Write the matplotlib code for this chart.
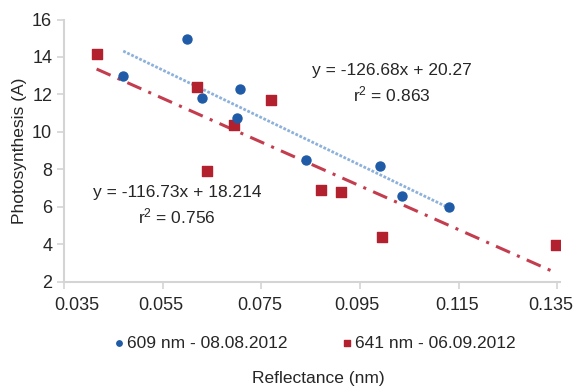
import matplotlib
matplotlib.use("Agg")
import matplotlib.pyplot as plt
import matplotlib.transforms as mtransforms
import numpy as np

plt.rcParams["font.family"] = ["Liberation Sans", "DejaVu Sans"]

# ── DATA ────────────────────────────────────────────────────────────────────
x_609 = [0.047, 0.060, 0.063, 0.0706, 0.070, 0.084, 0.099, 0.1035, 0.113]
y_609 = [13.0, 14.95, 11.8, 12.3, 10.75, 8.5, 8.2, 6.6, 6.0]

x_641 = [0.0416, 0.0619, 0.0639, 0.0695, 0.077, 0.0871, 0.0911, 0.0994, 0.1347]
y_641 = [14.15, 12.4, 7.9, 10.35, 11.7, 6.9, 6.8, 4.4, 3.95]

fit_609 = (-126.68, 20.27)
fit_641 = (-116.73, 18.214)

x_ticks = [0.035, 0.055, 0.075, 0.095, 0.115, 0.135]
y_ticks = [2, 4, 6, 8, 10, 12, 14, 16]

label_609 = "609 nm - 08.08.2012"
label_641 = "641 nm - 06.09.2012"

# ── FIGURE ──────────────────────────────────────────────────────────────────
fig = plt.figure(figsize=(5.77, 3.90), dpi=100, facecolor="white")
ax = fig.add_axes([0.111, 0.277, 0.860, 0.673])

blue = "#1f5ba6"
red = "#b3202e"
txt = "#262626"

# trend lines
xs = np.array([min(x_609), max(x_609)])
ax.plot(xs, fit_609[0] * xs + fit_609[1], color="#8db1da", lw=2,
        ls=(0, (1, 0.6)), zorder=2)
xr = np.array([min(x_641), max(x_641)])
ax.plot(xr, fit_641[0] * xr + fit_641[1], color="#c43d4f", lw=2.2,
        ls=(0, (5, 2.5, 1, 2.5)), zorder=2)

ax.scatter(x_609, y_609, s=42, color=blue, marker="o", zorder=4, label=label_609)
ax.scatter(x_641, y_641, s=52, color=red, marker="s", zorder=3, label=label_641)

ax.set_xlim(0.035, 0.1356)
ax.set_ylim(2, 16)
ax.set_xticks(x_ticks)
ax.set_xticklabels([f"{v:.3f}" for v in x_ticks])
ax.set_yticks(y_ticks)

for side in ("top", "right"):
    ax.spines[side].set_visible(False)
for side in ("left", "bottom"):
    ax.spines[side].set_color("#d4d4d4")
    ax.spines[side].set_linewidth(1.5)
ax.tick_params(colors="#d4d4d4", labelcolor=txt, labelsize=13,
               length=5, width=1.2)
ax.tick_params(axis="x", pad=6)

# shift x tick labels a little like the original (first one pushed right)
shifts = [13, -2, -2, -3, -2, -7]
for lab, dx in zip(ax.get_xticklabels(), shifts):
    lab.set_transform(lab.get_transform() +
                      mtransforms.ScaledTranslation(dx / 100, 0, fig.dpi_scale_trans))

ax.set_ylabel("Photosynthesis (A)", fontsize=12.5, color=txt, labelpad=4)
fig.text(318 / 577, 1 - 378 / 390, "Reflectance (nm)", fontsize=12.5,
         color=txt, ha="center", va="center")

# equations
ax.text(0.1014, 12.59, "y = -126.68x + 20.27\n$\\mathregular{r^2}$ = 0.863",
        fontsize=12.5, color=txt, ha="center", va="center", linespacing=1.4)
ax.text(0.0579, 6.05, "y = -116.73x + 18.214\n$\\mathregular{r^2}$ = 0.756",
        fontsize=12.5, color=txt, ha="center", va="center", linespacing=1.4)

fig.legend(loc="center", bbox_to_anchor=(0.544, 1 - 343 / 390), ncol=2,
           frameon=False, fontsize=12.5, markerscale=0.6, handlelength=0.8,
           handletextpad=0.1, columnspacing=3.0, labelcolor=txt)

fig.savefig("out.png", dpi=100, facecolor="white")
